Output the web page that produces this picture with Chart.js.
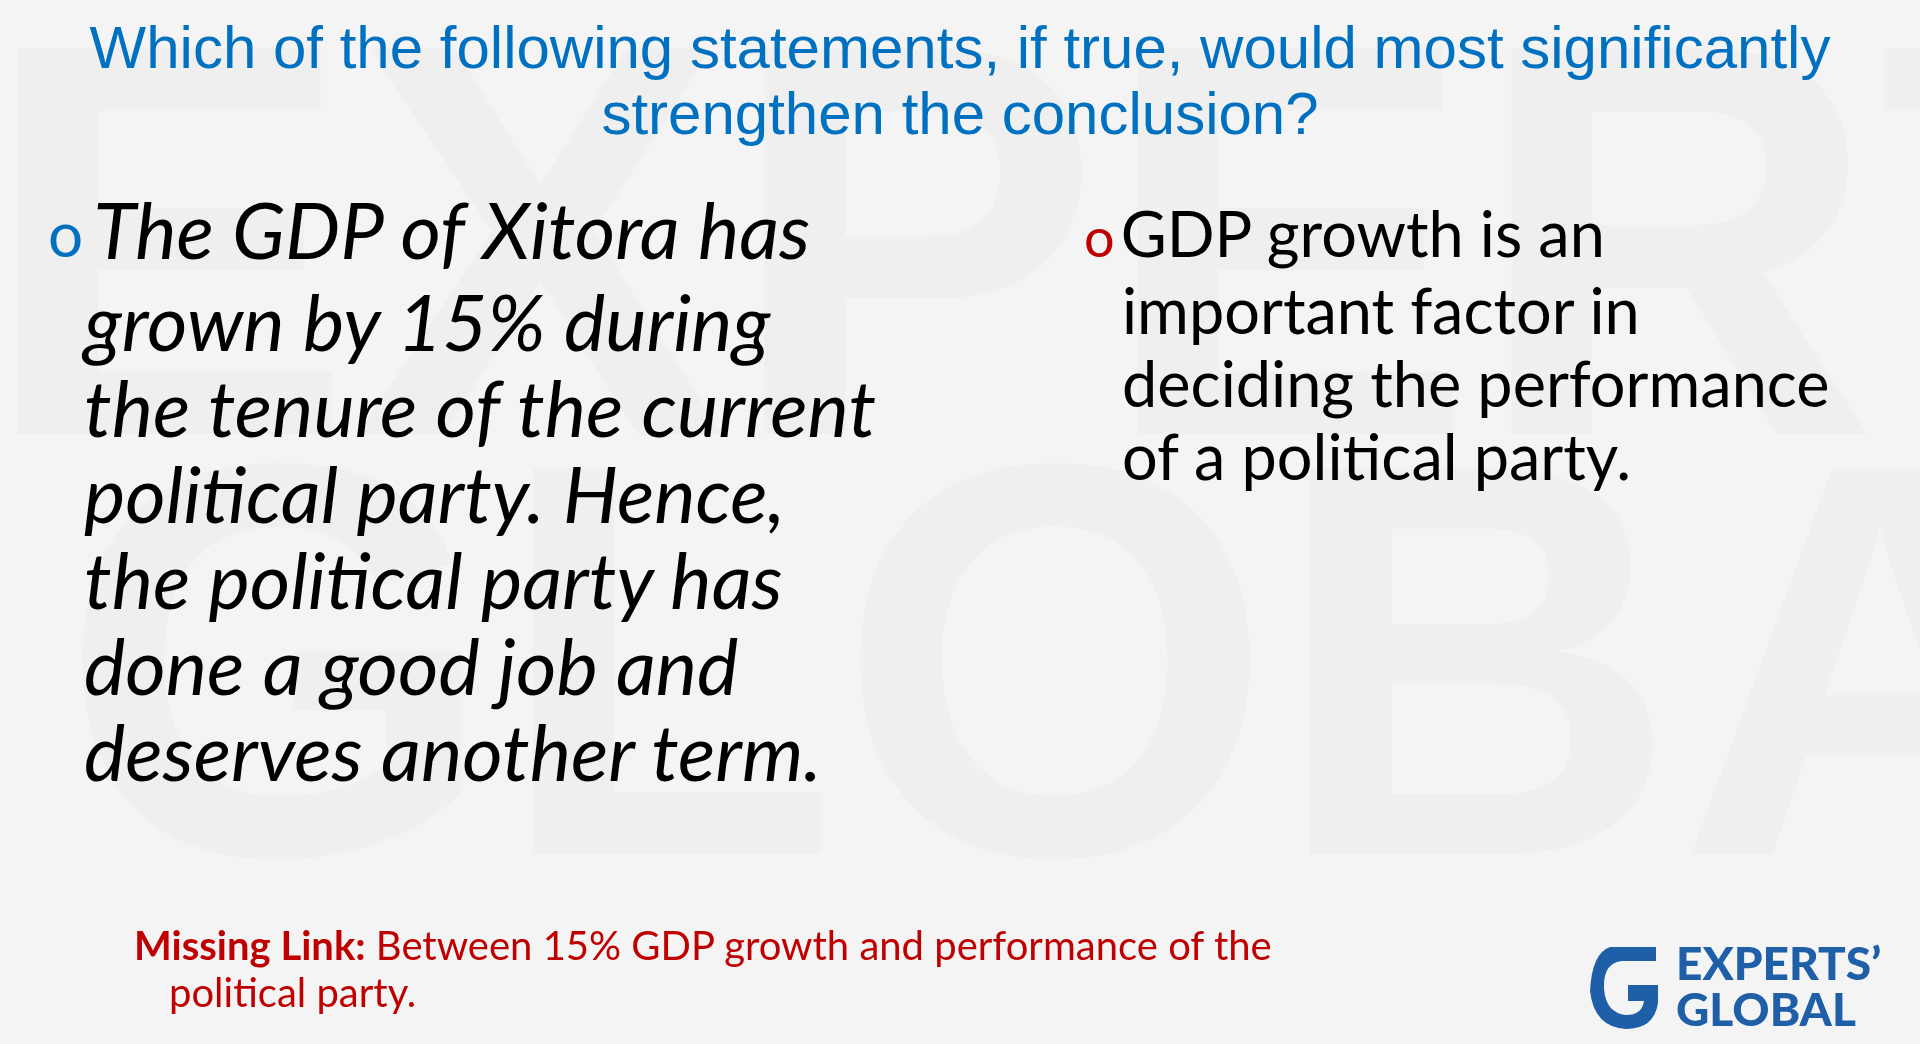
<!DOCTYPE html>
<html><head><meta charset="utf-8">
<script src="https://cdn.jsdelivr.net/npm/chart.js@4"></script>
<style>
html,body{margin:0;padding:0;width:1920px;height:1044px;overflow:hidden;background:#f4f4f4;font-family:Lato,"Open Sans",sans-serif;}
#wrap{position:absolute;left:0;top:0;width:1920px;height:1044px;}
.wm{position:absolute;color:#efefef;font-family:"Liberation Sans",Arial,sans-serif;font-weight:bold;font-size:560px;line-height:1;}
.abs{position:absolute;white-space:nowrap;}
#left{left:84px;top:186px;font-style:italic;font-size:78px;line-height:86px;color:#000;}
#right{left:1122px;top:196px;font-size:63px;line-height:73px;color:#000;}
#miss{left:134px;top:922px;font-size:40px;line-height:47px;color:#c00000;}
#logo{left:1676px;top:940px;font-size:46px;line-height:46px;color:#1f5fa8;font-weight:900;font-family:Lato,sans-serif;}
canvas{position:absolute;left:0;top:0;}
</style></head><body>
<div id="wrap">
<div class="wm" style="left:-20px;top:-40px;">EXPERTS</div>
<div class="wm" style="left:60px;top:380px;">GLOBAL</div>
<canvas id="c" width="1920" height="1044"></canvas>
<div class="abs" id="left"><span style="font-style:normal;color:#0070c0;font-size:62px;position:relative;left:-36px;top:-2px;">o</span><span style="margin-left:-26px">The GDP of Xitora has</span><br>grown by 15% during<br>the tenure of the current<br>political party. Hence,<br>the political party has<br>done a good job and<br>deserves another term.</div>
<div class="abs" id="right"><span style="color:#c00000;font-size:54px;position:relative;left:-38px;margin-right:-32px;">o</span>GDP growth is an<br>important factor in<br>deciding the performance<br>of a political party.</div>
<div class="abs" id="miss"><b>Missing Link:</b> Between 15% GDP growth and performance of the<br><span style="margin-left:35px">political party.</span></div>
<div class="abs" id="logo">EXPERTS’<br>GLOBAL</div>
<div class="abs" style="left:1590px;top:945px;width:70px;height:86px;">
<svg width="70" height="86" viewBox="0 0 70 86"><path d="M20 2 L66 2 L66 16 L32 16 Q14 18 14 40 L14 44 Q16 68 36 70 Q52 70 54 56 L38 56 L38 40 L68 40 L68 58 Q64 84 36 84 Q4 82 0 46 Q2 8 20 2 Z" fill="#1f5fa8"/></svg></div>
</div>
<script>
const titleLines = ["Which of the following statements, if true, would most significantly","strengthen the conclusion?"];
const categories = [];
const values = [];
new Chart(document.getElementById('c'), {
  type: 'bar',
  data: { labels: categories, datasets: [{ data: values }] },
  options: {
    responsive: false, animation: false,
    layout: { padding: { top: 18 } },
    scales: { x: { display: false }, y: { display: false } },
    plugins: {
      legend: { display: false }, tooltip: { enabled: false },
      title: { display: true, text: titleLines, color: '#0070c0',
        font: { family: '"Liberation Sans", Arial, sans-serif', size: 60, weight: 'normal', lineHeight: 1.1 },
        padding: { top: 0, bottom: 0 } }
    }
  }
});
</script>
</body></html>
